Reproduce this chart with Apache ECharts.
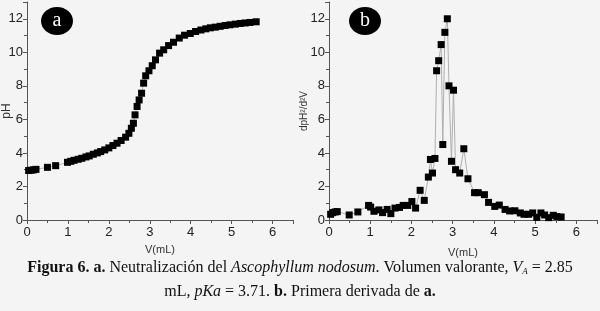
<!DOCTYPE html>
<html>
<head>
<meta charset="utf-8">
<script src="https://cdn.jsdelivr.net/npm/echarts@6/dist/echarts.min.js"></script>
<style>
    html, body {
        margin: 0;
        padding: 0;
        background: #f4f4f4;
    }
    #chart {
        width: 600px;
        height: 311px;
    }
</style>
</head>
<body>
<div id="chart"></div>
<script>
// a. curva de neutralización: volumen (mL) y pH
const volA = [0.04, 0.1, 0.16, 0.22, 0.5, 0.7, 0.99, 1.07, 1.15, 1.25, 1.34, 1.44, 1.52, 1.62, 1.72, 1.8,
    1.9, 2.0, 2.1, 2.2, 2.3, 2.41, 2.49, 2.55, 2.6, 2.64, 2.69, 2.74, 2.8, 2.85, 2.9, 2.98, 3.06, 3.14,
    3.24, 3.34, 3.46, 3.58, 3.72, 3.85, 3.99, 4.12, 4.25, 4.37, 4.48, 4.6, 4.72, 4.84, 4.96, 5.09,
    5.21, 5.33, 5.45, 5.6];
const phA = [2.95, 2.97, 2.99, 3.02, 3.14, 3.24, 3.44, 3.5, 3.56, 3.62, 3.68, 3.76, 3.82, 3.92, 4.0, 4.08,
    4.18, 4.3, 4.44, 4.58, 4.74, 4.94, 5.17, 5.47, 5.77, 6.27, 6.77, 7.16, 7.56, 8.16, 8.6, 8.9, 9.2, 9.55,
    9.95, 10.15, 10.4, 10.6, 10.85, 11.02, 11.12, 11.24, 11.33, 11.4, 11.46, 11.5, 11.55, 11.6, 11.64, 11.68,
    11.72, 11.75, 11.78, 11.82];

// b. primera derivada
const volB = [0.04, 0.09, 0.15, 0.2, 0.49, 0.7, 0.96, 1.01, 1.09, 1.21, 1.3, 1.41, 1.5, 1.6, 1.71, 1.8,
    1.91, 2.01, 2.1, 2.21, 2.31, 2.41, 2.46, 2.51, 2.57, 2.61, 2.66, 2.72, 2.76, 2.81, 2.87, 2.91, 2.97,
    3.02, 3.07, 3.17, 3.27, 3.37, 3.53, 3.62, 3.77, 3.87, 4.02, 4.13, 4.27, 4.38, 4.51, 4.64, 4.73,
    4.84, 4.94, 5.04, 5.14, 5.23, 5.33, 5.44, 5.53, 5.63];
const derivB = [0.34, 0.44, 0.48, 0.5, 0.3, 0.48, 0.87, 0.77, 0.52, 0.6, 0.44, 0.63, 0.38, 0.71, 0.75, 0.87,
    0.87, 1.1, 0.71, 1.77, 1.17, 2.56, 3.61, 2.8, 3.67, 8.9, 9.5, 10.46, 4.5, 11.19, 12.0, 8.0, 3.5,
    7.74, 3.0, 2.8, 4.25, 2.46, 1.63, 1.63, 1.51, 1.05, 0.81, 0.89, 0.63, 0.54, 0.55, 0.42, 0.34,
    0.34, 0.42, 0.16, 0.42, 0.3, 0.14, 0.28, 0.2, 0.18];

const xTicks = [0, 1, 2, 3, 4, 5, 6];
const yTicks = [0, 2, 4, 6, 8, 10, 12];

const chart = echarts.init(document.getElementById("chart"));

// ejes comunes
function xAxisOf(gridIndex, gap) {
    return {
        gridIndex: gridIndex,
        type: "value",
        min: 0,
        max: 6.5,
        interval: 1,
        name: "V(mL)",
        nameLocation: "middle",
        nameGap: gap,
        nameMoveOverlap: false,
        nameTextStyle: {fontFamily: "Liberation Sans", fontSize: 11, color: "#333"},
        axisLine: {show: true, lineStyle: {color: "#555", width: 1}},
        axisTick: {show: true, length: 4, lineStyle: {color: "#555"}},
        minorTick: {show: true, splitNumber: 2, length: 3, lineStyle: {color: "#555"}},
        axisLabel: {
            fontFamily: "Liberation Sans", fontSize: 13, color: "#222", margin: 6,
            formatter: (v) => xTicks.indexOf(v) >= 0 ? String(v) : ""
        },
        splitLine: {show: false}
    };
}

function yAxisOf(gridIndex, name, size, gap) {
    return {
        gridIndex: gridIndex,
        type: "value",
        min: 0,
        max: 13,
        interval: 2,
        name: name,
        nameLocation: "middle",
        nameGap: gap,
        nameMoveOverlap: false,
        nameTextStyle: {fontFamily: "Liberation Sans", fontSize: size, color: "#333"},
        axisLine: {show: true, lineStyle: {color: "#555", width: 1}},
        axisTick: {show: true, length: 4, lineStyle: {color: "#555"}},
        minorTick: {show: true, splitNumber: 2, length: 3, lineStyle: {color: "#555"}},
        axisLabel: {
            fontFamily: "Liberation Sans", fontSize: 13, color: "#222", margin: 4,
            formatter: (v) => yTicks.indexOf(v) >= 0 ? String(v) : ""
        },
        splitLine: {show: false}
    };
}

const option = {
    backgroundColor: "#f4f4f4",
    animation: false,
    grid: [
        {left: 26, top: 2, width: 267, height: 218},
        {left: 329, top: 2, width: 268, height: 218}
    ],
    xAxis: [xAxisOf(0, 24), xAxisOf(1, 27)],
    yAxis: [yAxisOf(0, "pH", 12, 14), yAxisOf(1, "dpH²/d²V", 10, 20)],
    series: [
        {
            type: "line",
            xAxisIndex: 0,
            yAxisIndex: 0,
            data: volA.map((v, i) => [v, phA[i]]),
            symbol: "rect",
            symbolSize: 7,
            itemStyle: {color: "#000"},
            lineStyle: {color: "#b5b5b5", width: 1}
        },
        {
            type: "line",
            xAxisIndex: 1,
            yAxisIndex: 1,
            data: volB.map((v, i) => [v, derivB[i]]),
            symbol: "rect",
            symbolSize: 7,
            itemStyle: {color: "#000"},
            lineStyle: {color: "#b0b0b0", width: 1}
        }
    ],
    graphic: [
        {type: "ellipse", shape: {cx: 57, cy: 21, rx: 16, ry: 14}, style: {fill: "#000"}},
        {type: "text", x: 57, y: 21, style: {text: "a", fill: "#fff", font: "20px 'Liberation Serif'", align: "center", verticalAlign: "middle"}},
        {type: "ellipse", shape: {cx: 365, cy: 21, rx: 16, ry: 14}, style: {fill: "#000"}},
        {type: "text", x: 365, y: 21, style: {text: "b", fill: "#fff", font: "20px 'Liberation Serif'", align: "center", verticalAlign: "middle"}},
        {
            type: "text", x: 300, y: 268,
            style: {
                text: "{b|Figura 6. a.} Neutralización del {i|Ascophyllum nodosum}. Volumen valorante, {i|V}{sub|A} = 2.85",
                align: "center", verticalAlign: "middle",
                fill: "#111", font: "16px 'Liberation Serif'",
                rich: {
                    b: {fontWeight: "bold", fontSize: 16, fontFamily: "Liberation Serif"},
                    i: {fontStyle: "italic", fontSize: 16, fontFamily: "Liberation Serif"},
                    sub: {fontStyle: "italic", fontSize: 9, fontFamily: "Liberation Serif", padding: [8, 0, 0, 0]}
                }
            }
        },
        {
            type: "text", x: 300, y: 292,
            style: {
                text: "mL, {i|pKa} = 3.71. {b|b.} Primera derivada de {b|a.}",
                align: "center", verticalAlign: "middle",
                fill: "#111", font: "16px 'Liberation Serif'",
                rich: {
                    b: {fontWeight: "bold", fontSize: 16, fontFamily: "Liberation Serif"},
                    i: {fontStyle: "italic", fontSize: 16, fontFamily: "Liberation Serif"}
                }
            }
        }
    ]
};

chart.setOption(option);
</script>
</body>
</html>
